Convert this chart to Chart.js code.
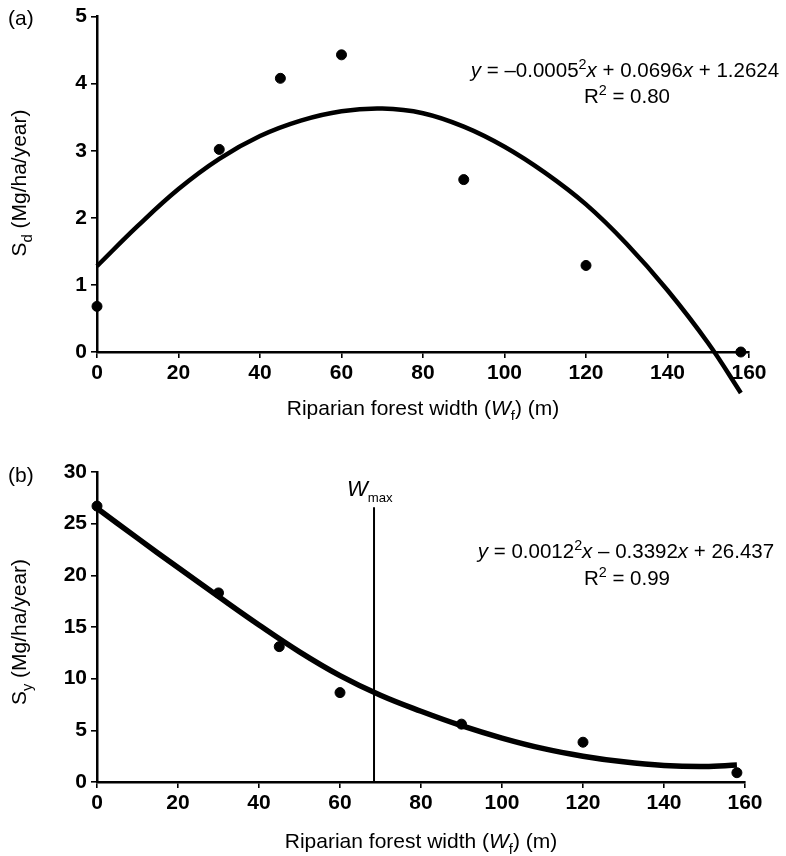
<!DOCTYPE html>
<html>
<head>
<meta charset="utf-8">
<script src="https://cdn.jsdelivr.net/npm/chart.js@4.4.1/dist/chart.umd.min.js"></script>
<style>
  html, body { margin: 0; padding: 0; background: #fff; }
  #wrap { position: relative; width: 786px; height: 856px; }
  .panel { position: absolute; left: 0; width: 786px; }
</style>
</head>
<body>
<div id="wrap">
  <div class="panel" style="top:0;height:420px"><canvas id="chartA" width="786" height="420"></canvas></div>
  <div class="panel" style="top:420px;height:436px"><canvas id="chartB" width="786" height="436"></canvas></div>
</div>
<script>
// ---- data ----
const widthTicks = [0, 20, 40, 60, 80, 100, 120, 140, 160];

// (a) sediment deposition S_d
const widthsA = [0, 30, 45, 60, 90, 120, 158];
const sedA    = [0.68, 3.02, 4.08, 4.43, 2.57, 1.29, 0.0];
const fitXA   = [0, 10, 20, 30, 40, 50, 60, 70, 80, 90, 100, 110, 120, 130, 140, 150, 158];
const fitA    = [1.28, 1.88, 2.43, 2.88, 3.22, 3.45, 3.59, 3.63, 3.56, 3.36, 3.06, 2.67, 2.20, 1.61, 0.92, 0.13, -0.61];

// (b) sediment yield S_y
const widthsB = [0, 30, 45, 60, 90, 120, 158];
const yieldB  = [26.7, 18.3, 13.1, 8.65, 5.6, 3.85, 0.9];
const fitXB   = [0, 10, 20, 30, 40, 50, 60, 70, 80, 90, 100, 110, 120, 130, 140, 150, 158];
const fitB    = [26.5, 23.6, 20.75, 17.95, 15.2, 12.6, 10.3, 8.4, 6.85, 5.45, 4.25, 3.25, 2.5, 1.95, 1.6, 1.5, 1.65];

const wMax = 68.4;
const wMaxTop = 26.6;

const FONT = '"Liberation Sans", Arial, Helvetica, sans-serif';
Chart.defaults.font.family = FONT;
Chart.defaults.color = '#000';

const pts = (xs, ys) => xs.map((x, i) => ({ x: x, y: ys[i] }));

// draws a run of text pieces; pieces can be italic, sub- or superscript
function drawRich(ctx, parts, x, y, size, align) {
  const fontOf = p => {
    const s = (p.sub || p.sup) ? size * (p.scale || 0.7) : size;
    return (p.it ? 'italic ' : '') + s + 'px ' + FONT;
  };
  let w = 0;
  parts.forEach(p => { ctx.font = fontOf(p); p.w = ctx.measureText(p.t).width; w += p.w; });
  let cx = align === 'center' ? x - w / 2 : align === 'right' ? x - w : x;
  parts.forEach(p => {
    ctx.font = fontOf(p);
    const dy = p.sub ? size * 0.28 : p.sup ? -size * 0.38 : 0;
    ctx.fillText(p.t, cx, y + dy);
    cx += p.w;
  });
}

const textPlugin = {
  id: 'panelText',
  afterDraw(chart, args, opts) {
    const ctx = chart.ctx;
    ctx.save();
    ctx.fillStyle = '#000';
    ctx.textAlign = 'left';
    ctx.textBaseline = 'alphabetic';
    (opts.items || []).forEach(it => {
      ctx.save();
      ctx.translate(it.x, it.y);
      if (it.rotate) ctx.rotate(it.rotate);
      drawRich(ctx, it.parts, 0, 0, it.size, it.align || 'left');
      ctx.restore();
    });
    ctx.restore();
  }
};

const xTitle = [
  { t: 'Riparian forest width (' }, { t: 'W', it: true }, { t: 'f', sub: true }, { t: ') (m)' }
];

function axes(yMax, yStep, xHeight) {
  const grid = { display: true, drawOnChartArea: false, drawTicks: true, tickLength: 6, color: '#000', lineWidth: 1.6 };
  const border = { display: true, color: '#000', width: 2.5 };
  return {
    x: {
      type: 'linear', min: 0, max: 160,
      afterFit: s => { s.height = xHeight; },
      afterBuildTicks: s => { s.ticks = widthTicks.map(v => ({ value: v })); },
      ticks: { font: { size: 21, weight: 'bold' }, color: '#000', padding: 3, maxRotation: 0, autoSkip: false },
      grid: grid, border: border
    },
    y: {
      type: 'linear', min: 0, max: yMax,
      afterFit: s => { s.width = 97; },
      ticks: { stepSize: yStep, font: { size: 21, weight: 'bold' }, color: '#000', padding: 4 },
      grid: grid, border: border
    }
  };
}

function baseOptions(padding, scales, items) {
  return {
    responsive: false,
    animation: false,
    layout: { padding: padding },
    scales: scales,
    plugins: { legend: { display: false }, tooltip: { enabled: false }, panelText: { items: items } }
  };
}

// ---- panel (a) ----
new Chart(document.getElementById('chartA'), {
  type: 'scatter',
  data: {
    datasets: [
      { type: 'line', data: pts(fitXA, fitA), borderColor: '#000', borderWidth: 4.5,
        pointRadius: 0, tension: 0.4, clip: false },
      { data: pts(widthsA, sedA), backgroundColor: '#000', borderColor: '#000',
        pointRadius: 5, clip: false }
    ]
  },
  options: baseOptions({ left: 0, top: 15, right: 37, bottom: 0 }, axes(5, 1, 68), [
    { x: 8, y: 25, size: 21, parts: [{ t: '(a)' }] },
    { x: 26, y: 183, size: 21, align: 'center', rotate: -Math.PI / 2,
      parts: [{ t: 'S' }, { t: 'd', sub: true }, { t: ' (Mg/ha/year)' }] },
    { x: 423, y: 415, size: 21, align: 'center', parts: xTitle },
    { x: 625, y: 77, size: 20.5, align: 'center',
      parts: [{ t: 'y', it: true }, { t: ' = \u20130.0005' }, { t: '2', sup: true }, { t: 'x', it: true },
              { t: ' + 0.0696' }, { t: 'x', it: true }, { t: ' + 1.2624' }] },
    { x: 627, y: 103, size: 20.5, align: 'center',
      parts: [{ t: 'R' }, { t: '2', sup: true }, { t: ' = 0.80' }] }
  ]),
  plugins: [textPlugin]
});

// ---- panel (b) ----
new Chart(document.getElementById('chartB'), {
  type: 'scatter',
  data: {
    datasets: [
      { type: 'line', data: [{ x: wMax, y: 0 }, { x: wMax, y: wMaxTop }], borderColor: '#000',
        borderWidth: 2, pointRadius: 0 },
      { type: 'line', data: pts(fitXB, fitB), borderColor: '#000', borderWidth: 5.5,
        pointRadius: 0, tension: 0.4, clip: false },
      { data: pts(widthsB, yieldB), backgroundColor: '#000', borderColor: '#000',
        pointRadius: 5, clip: false }
    ]
  },
  options: baseOptions({ left: 0, top: 52, right: 41, bottom: 0 }, axes(30, 5, 74), [
    { x: 8, y: 62, size: 21, parts: [{ t: '(b)' }] },
    { x: 26, y: 212, size: 21, align: 'center', rotate: -Math.PI / 2,
      parts: [{ t: 'S' }, { t: 'y', sub: true }, { t: ' (Mg/ha/year)' }] },
    { x: 421, y: 428, size: 21, align: 'center', parts: xTitle },
    { x: 347, y: 76, size: 22, parts: [{ t: 'W', it: true }, { t: 'max', sub: true, scale: 0.6 }] },
    { x: 626, y: 138, size: 20.5, align: 'center',
      parts: [{ t: 'y', it: true }, { t: ' = 0.0012' }, { t: '2', sup: true }, { t: 'x', it: true },
              { t: ' \u2013 0.3392' }, { t: 'x', it: true }, { t: ' + 26.437' }] },
    { x: 627, y: 165, size: 20.5, align: 'center',
      parts: [{ t: 'R' }, { t: '2', sup: true }, { t: ' = 0.99' }] }
  ]),
  plugins: [textPlugin]
});
</script>
</body>
</html>
